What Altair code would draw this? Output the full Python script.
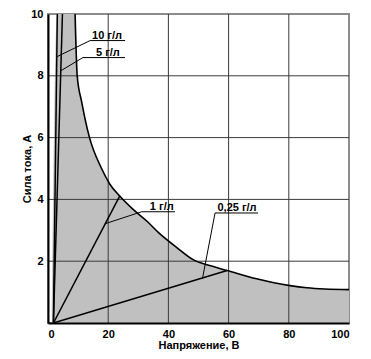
import altair as alt
import pandas as pd

# Boundary curve (upper edge of grey region), V vs I
curve_v = [9.0, 9.7, 11.2, 13.7, 17.8, 20.5, 23.9, 28.0, 32.8, 37.0, 42.7, 48.2, 54.0, 59.5, 69.3, 80.4, 86.0, 92.0, 100.0]
curve_i = [10.0, 8.0, 7.15, 6.03, 5.0, 4.5, 4.1, 3.7, 3.3, 2.9, 2.45, 2.05, 1.85, 1.7, 1.43, 1.21, 1.14, 1.1, 1.08]

# Left edge of grey region
left_v = [1.3, 3.0]
left_i = [0.0, 10.0]

# Concentration lines (start -> end)
conc_names = ["10 г/л", "5 г/л", "1 г/л", "0,25 г/л"]
conc_v0 = [1.8, 1.8, 1.8, 1.8]
conc_i0 = [0.0, 0.0, 0.0, 0.0]
conc_v1 = [3.1, 4.8, 23.9, 59.5]
conc_i1 = [10.0, 10.0, 4.12, 1.7]

# Label positions (data units)
label_v = [19.6, 19.9, 37.8, 62.8]
label_i = [9.29, 8.73, 3.75, 3.73]

# Leader lines: underline start/end and pointer target
under_v0 = [14.0, 11.6, 31.1, 55.5]
under_v1 = [25.6, 25.6, 42.2, 69.8]
under_i = [9.14, 8.59, 3.6, 3.56]
point_v = [3.0, 4.2, 18.9, 51.3]
point_i = [8.62, 8.16, 3.21, 1.43]

x_ticks = [0, 20, 40, 60, 80, 100]
y_ticks = [2, 4, 6, 8, 10]
grid_x = [20, 40, 60, 80]
grid_y = [2, 4, 6, 8]

FONT = "Liberation Sans"
W, H = 301, 309

area_df = pd.DataFrame({"v": left_v + curve_v, "i": left_i + curve_i})
curve_df = pd.DataFrame({"v": curve_v, "i": curve_i})
conc_df = pd.DataFrame({"name": conc_names, "v0": conc_v0, "i0": conc_i0, "v1": conc_v1, "i1": conc_i1})
lab_df = pd.DataFrame({"name": conc_names, "v": label_v, "i": label_i})
seg_rows = []
for k in range(len(conc_names)):
    seg_rows.append({"v0": under_v0[k], "i0": under_i[k], "v1": under_v1[k], "i1": under_i[k]})
    seg_rows.append({"v0": under_v0[k], "i0": under_i[k], "v1": point_v[k], "i1": point_i[k]})
seg_df = pd.DataFrame(seg_rows)
gx_df = pd.DataFrame({"g": grid_x})
gy_df = pd.DataFrame({"g": grid_y})

xscale = alt.Scale(domain=[0, 100], nice=False)
yscale = alt.Scale(domain=[0, 10], nice=False)

xaxis = alt.Axis(values=x_ticks, title="Напряжение, В", grid=False,
                 domainColor="black", domainWidth=2, ticks=False, labelPadding=5,
                 labelFont=FONT, labelFontWeight="bold", labelFontSize=11, labelColor="black",
                 titleFont=FONT, titleFontWeight="bold", titleFontSize=11, titleColor="black",
                 titlePadding=0, zindex=1)
yaxis = alt.Axis(values=y_ticks, title="Сила тока, А", grid=False,
                 domainColor="black", domainWidth=2, ticks=False, labelPadding=5,
                 labelFont=FONT, labelFontWeight="bold", labelFontSize=11, labelColor="black",
                 titleFont=FONT, titleFontWeight="bold", titleFontSize=11, titleColor="black",
                 titlePadding=-2, zindex=1)

area = alt.Chart(area_df).mark_area(color="#c0c0c0", opacity=1, clip=True, interpolate="monotone").encode(
    x=alt.X("v:Q", scale=xscale, axis=xaxis),
    y=alt.Y("i:Q", scale=yscale, axis=yaxis),
    y2=alt.datum(0),
)

gridx = alt.Chart(gx_df).mark_rule(color="#3a3a3a", strokeWidth=1).encode(
    x=alt.X("g:Q", scale=xscale), y=alt.datum(0), y2=alt.datum(10)
)
gridy = alt.Chart(gy_df).mark_rule(color="#3a3a3a", strokeWidth=1).encode(
    y=alt.Y("g:Q", scale=yscale), x=alt.datum(0), x2=alt.datum(100)
)

curve = alt.Chart(curve_df).mark_line(color="black", strokeWidth=1.6, clip=True, interpolate="monotone").encode(
    x=alt.X("v:Q", scale=xscale),
    y=alt.Y("i:Q", scale=yscale),
)

conc = alt.Chart(conc_df).mark_rule(color="black", strokeWidth=1.5, clip=True).encode(
    x=alt.X("v0:Q", scale=xscale), y=alt.Y("i0:Q", scale=yscale), x2="v1:Q", y2="i1:Q"
)

segs = alt.Chart(seg_df).mark_rule(color="black", strokeWidth=1).encode(
    x=alt.X("v0:Q", scale=xscale), y=alt.Y("i0:Q", scale=yscale), x2="v1:Q", y2="i1:Q"
)

labels = alt.Chart(lab_df).mark_text(font=FONT, fontWeight="bold", fontSize=11, color="black",
                                      align="center", baseline="middle").encode(
    x=alt.X("v:Q", scale=xscale), y=alt.Y("i:Q", scale=yscale), text="name:N"
)

chart = alt.layer(area, gridx, gridy, curve, conc, segs, labels).properties(
    width=W, height=H,
    padding={"left": 40, "top": 6, "right": 14, "bottom": 34},
    autosize="none",
    background="white",
).configure_view(stroke="#8c8c8c", strokeWidth=2)

chart.save("out.html", embed_options={"renderer": "svg", "actions": False})
